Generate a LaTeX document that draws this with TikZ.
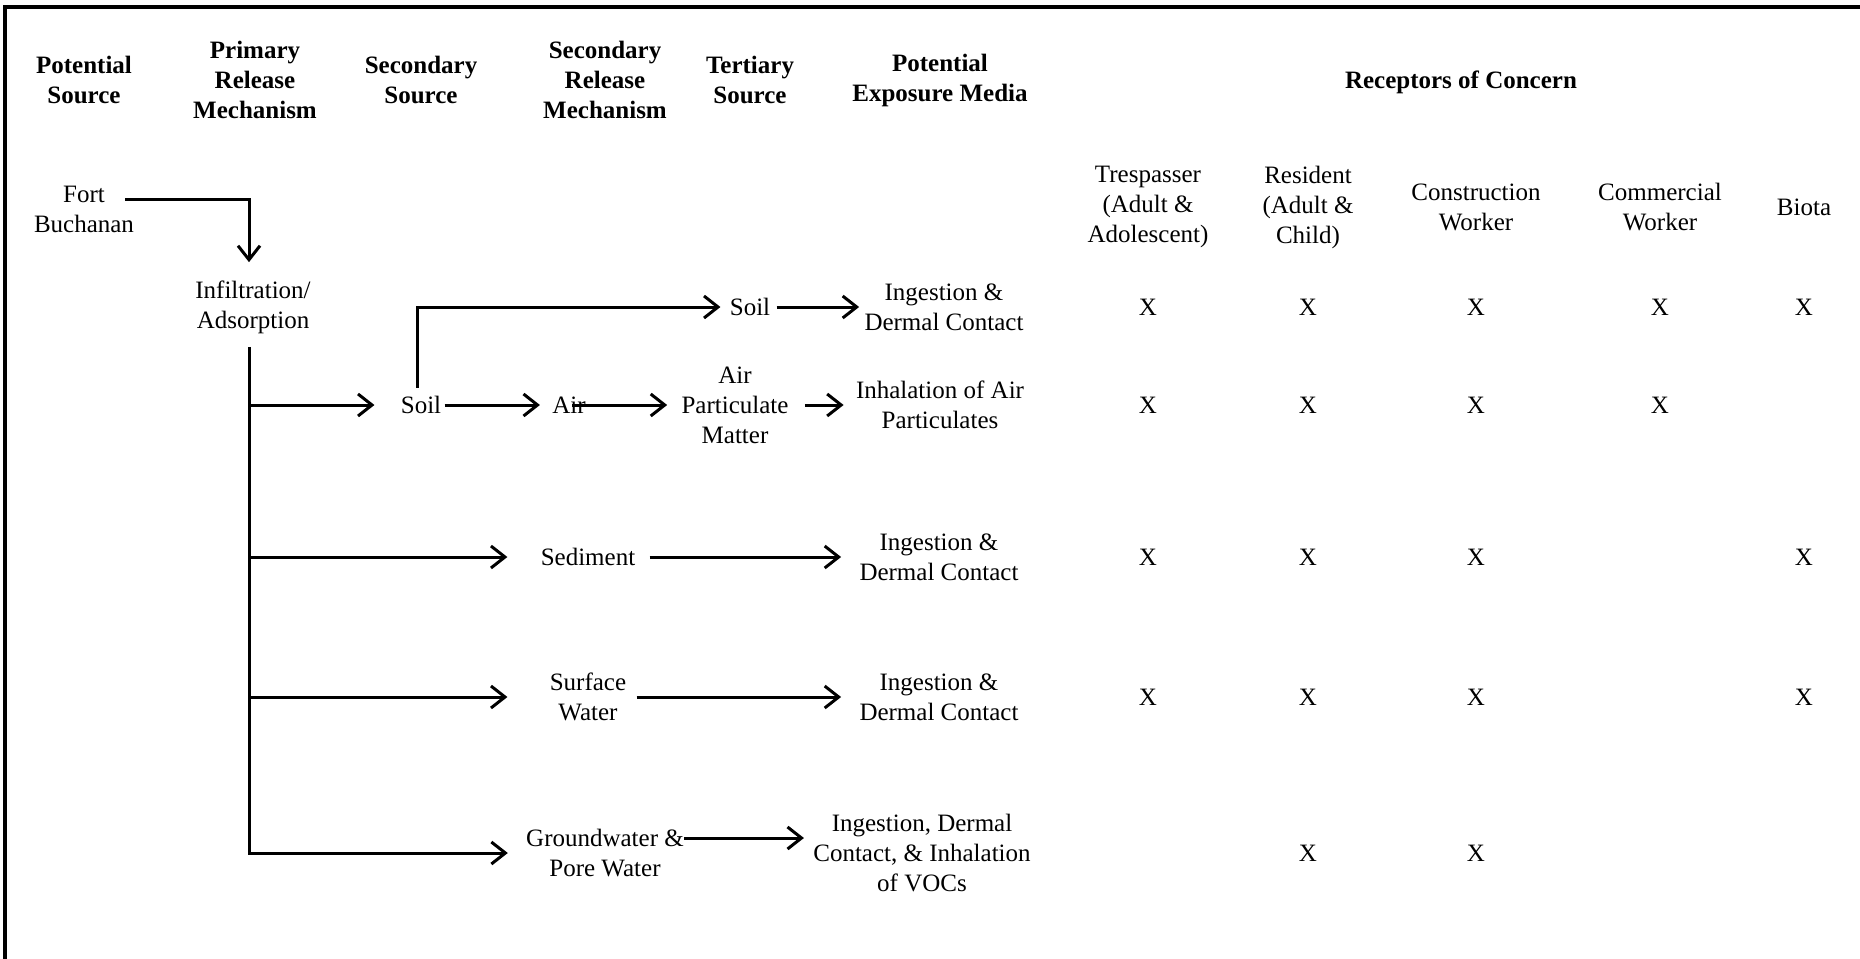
\documentclass[tikz,border=0pt]{standalone}
\usepackage{fontspec}
\setmainfont{Liberation Serif}
\usetikzlibrary{arrows.meta, calc}

\tikzset{
  lbl/.style={align=center, inner sep=0pt, font=\fontsize{12.5}{15}\selectfont},
  hdr/.style={lbl, font=\fontsize{12.5}{15}\selectfont\bfseries},
  xmark/.style={lbl},
  ln/.style={line width=1.5pt},
  arr/.style={ln, -{Straight Barb[length=7pt,width=11pt]}},
  frame/.style={line width=2.2pt},
}

\begin{document}
\begin{tikzpicture}[x=0.5pt, y=-0.5pt]

\useasboundingbox (0,0) rectangle (1860,959);

% ── Frame (top and left only) ─────────────────────────────────────────────────
\draw[frame] (1860,7) -- (5,7) -- (5,959);

% ── Column headers ────────────────────────────────────────────────────────────
\node[hdr] (hsrc)  at (84,80)   {Potential\\Source};
\node[hdr] (hprm)  at (255,80)  {Primary\\Release\\Mechanism};
\node[hdr] (hss)   at (421,80)  {Secondary\\Source};
\node[hdr] (hsrm)  at (605,80)  {Secondary\\Release\\Mechanism};
\node[hdr] (hts)   at (750,80)  {Tertiary\\Source};
\node[hdr] (hpem)  at (940,80)  {Potential\\Exposure Media};
\node[hdr] (hroc)  at (1461,82) {Receptors of Concern};

% ── Receptors ─────────────────────────────────────────────────────────────────
\node[lbl] (tres)  at (1148,207) {Trespasser\\(Adult \&\\Adolescent)};
\node[lbl] (resi)  at (1308,207) {Resident\\(Adult \&\\Child)};
\node[lbl] (cons)  at (1476,207) {Construction\\Worker};
\node[lbl] (comm)  at (1660,207) {Commercial\\Worker};
\node[lbl] (biota) at (1804,207) {Biota};

% ── Pathway nodes ─────────────────────────────────────────────────────────────
\node[lbl] (fort)  at (84,209)  {Fort\\Buchanan};
\node[lbl] (infil) at (253,307) {Infiltration/\\Adsorption};

\node[lbl] (soiltwo)   at (421,405) {Soil};
\node[lbl] (air)       at (569,405) {Air};
\node[lbl] (apm)       at (735,405) {Air\\Particulate\\Matter};
\node[lbl] (soilthree) at (750,307) {Soil};
\node[lbl] (sed)       at (588,557) {Sediment};
\node[lbl] (sw)        at (588,697) {Surface\\Water};
\node[lbl] (gw)        at (605,853) {Groundwater \&\\Pore Water};

% exposure media
\node[lbl] (expa) at (944,307) {Ingestion \&\\Dermal Contact};
\node[lbl] (expb) at (940,405) {Inhalation of Air\\Particulates};
\node[lbl] (expc) at (939,557) {Ingestion \&\\Dermal Contact};
\node[lbl] (expd) at (939,697) {Ingestion \&\\Dermal Contact};
\node[lbl] (expe) at (922,853) {Ingestion, Dermal\\Contact, \& Inhalation\\of VOCs};

% ── Receptor marks ────────────────────────────────────────────────────────────
% soil
\node[xmark] (xatres) at (1148,307) {X};
\node[xmark] (xaresi) at (1308,307) {X};
\node[xmark] (xacons) at (1476,307) {X};
\node[xmark] (xacomm) at (1660,307) {X};
\node[xmark] (xabio)  at (1804,307) {X};
% air particulates
\node[xmark] (xbtres) at (1148,405) {X};
\node[xmark] (xbresi) at (1308,405) {X};
\node[xmark] (xbcons) at (1476,405) {X};
\node[xmark] (xbcomm) at (1660,405) {X};
% sediment
\node[xmark] (xctres) at (1148,557) {X};
\node[xmark] (xcresi) at (1308,557) {X};
\node[xmark] (xccons) at (1476,557) {X};
\node[xmark] (xcbio)  at (1804,557) {X};
% surface water
\node[xmark] (xdtres) at (1148,697) {X};
\node[xmark] (xdresi) at (1308,697) {X};
\node[xmark] (xdcons) at (1476,697) {X};
\node[xmark] (xdbio)  at (1804,697) {X};
% groundwater
\node[xmark] (xeresi) at (1308,853) {X};
\node[xmark] (xecons) at (1476,853) {X};

% ── Arrows ────────────────────────────────────────────────────────────────────

% source to primary release
\coordinate (trunk) at ([xshift=-2pt,yshift=-6.5pt]infil.south);
\draw[arr] ([xshift=-4.5pt,yshift=5pt]fort.east) -| ([xshift=-2pt,yshift=9pt]infil.north);

% trunk and branches
\draw[arr] (trunk) |- ([xshift=-9pt]gw.west);
\draw[arr] (trunk |- soiltwo) -- ([xshift=-13pt]soiltwo.west);
\draw[arr] (trunk |- sed) -- ([xshift=-16.5pt]sed.west);
\draw[arr] (trunk |- sw) -- ([xshift=-21pt]sw.west);

% soil / air chain
\draw[arr] ([xshift=1.5pt]soiltwo.east) -- ([xshift=-6pt]air.west);
\draw[arr] ([xshift=1.5pt]air.center) -- ([xshift=-7pt]apm.west);
\draw[arr] ([xshift=8pt]apm.east) -- ([xshift=-6pt]expb.west);
\draw[arr] ([xshift=-2pt,yshift=4pt]soiltwo.north) |- ([xshift=-4.5pt]soilthree.west);
\draw[arr] ([xshift=3pt]soilthree.east) -- ([xshift=-2.5pt]expa.west);

% sediment, surface water, groundwater
\draw[arr] ([xshift=7pt]sed.east) -- ([xshift=-9pt]expc.west);
\draw[arr] ([xshift=5pt]sw.east) -- ([xshift=-9pt]expd.west);
\draw[arr] ([yshift=7.5pt]gw.east) -- ([xshift=-4.5pt,yshift=7.5pt]expe.west);

\end{tikzpicture}
\end{document}
